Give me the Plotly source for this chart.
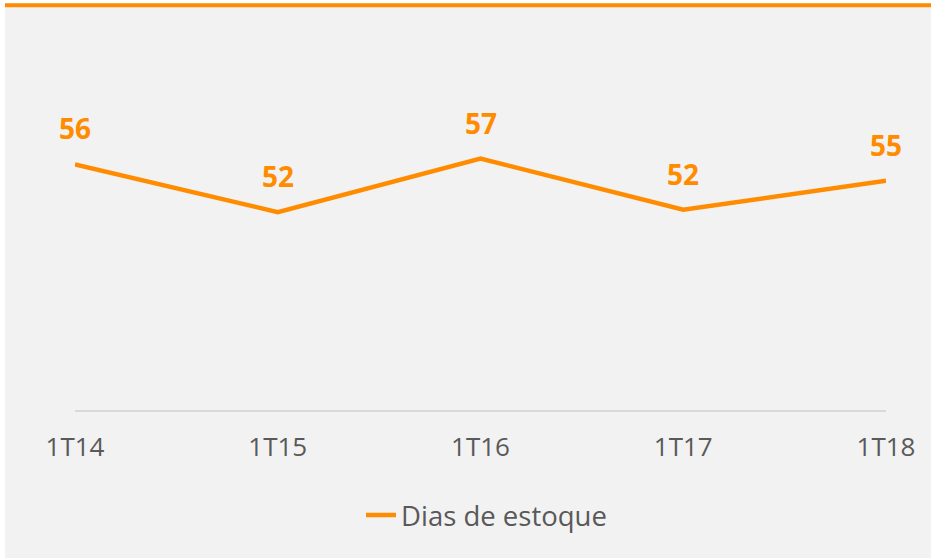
import plotly.graph_objects as go

categories = ["1T14", "1T15", "1T16", "1T17", "1T18"]
dias_estoque = [56.1, 52.0, 56.6, 52.2, 54.7]
series_name = "Dias de estoque"

ORANGE = "#FF8C00"
GRAY_TXT = "#595959"
FONT = "Open Sans"

fig = go.Figure()
fig.add_trace(go.Scatter(
    x=categories, y=dias_estoque, mode="lines", name=series_name,
    line=dict(color=ORANGE, width=4.5),
))

for c, v in zip(categories, dias_estoque):
    fig.add_annotation(
        x=c, y=v, text=f"<b>{round(v)}</b>", showarrow=False,
        yshift=36, yanchor="middle",
        font=dict(family=FONT, size=28, color=ORANGE),
    )

# background panel and top orange band (paper coords)
L, T, W, H = 75, 119, 811, 291
def px(xp): return (xp - L) / W
def py(yp): return (T + H - yp) / H

fig.add_shape(type="rect", xref="paper", yref="paper",
              x0=px(5), x1=px(935), y0=py(3), y1=py(562),
              fillcolor="#F2F2F2", line=dict(width=0), layer="below")
fig.add_shape(type="line", xref="paper", yref="paper",
              x0=px(5), x1=px(935), y0=py(5.3), y1=py(5.3),
              line=dict(color=ORANGE, width=4), layer="below")

fig.update_layout(
    width=931, height=558,
    margin=dict(l=L, r=931 - L - W, t=T, b=558 - T - H, pad=0),
    paper_bgcolor="white", plot_bgcolor="rgba(0,0,0,0)",
    showlegend=True,
    legend=dict(orientation="h", x=px(406 - 45), xanchor="left",
                y=py(515), yanchor="middle",
                font=dict(family=FONT, size=27.5, color=GRAY_TXT),
                bgcolor="rgba(0,0,0,0)"),
    xaxis=dict(type="category", range=[0, 4], showgrid=False, zeroline=False,
               showline=True, linecolor="#D9D9D9", linewidth=1.5,
               ticks="outside", ticklen=13, tickcolor="rgba(0,0,0,0)",
               tickfont=dict(family=FONT, size=26, color=GRAY_TXT)),
    yaxis=dict(range=[35, 60], showgrid=False, zeroline=False,
               showticklabels=False, showline=False),
)

fig.write_html(
    "out.html",
    config={"displayModeBar": False},
    post_script="document.body.style.margin='0';document.body.style.overflow='hidden';",
)
